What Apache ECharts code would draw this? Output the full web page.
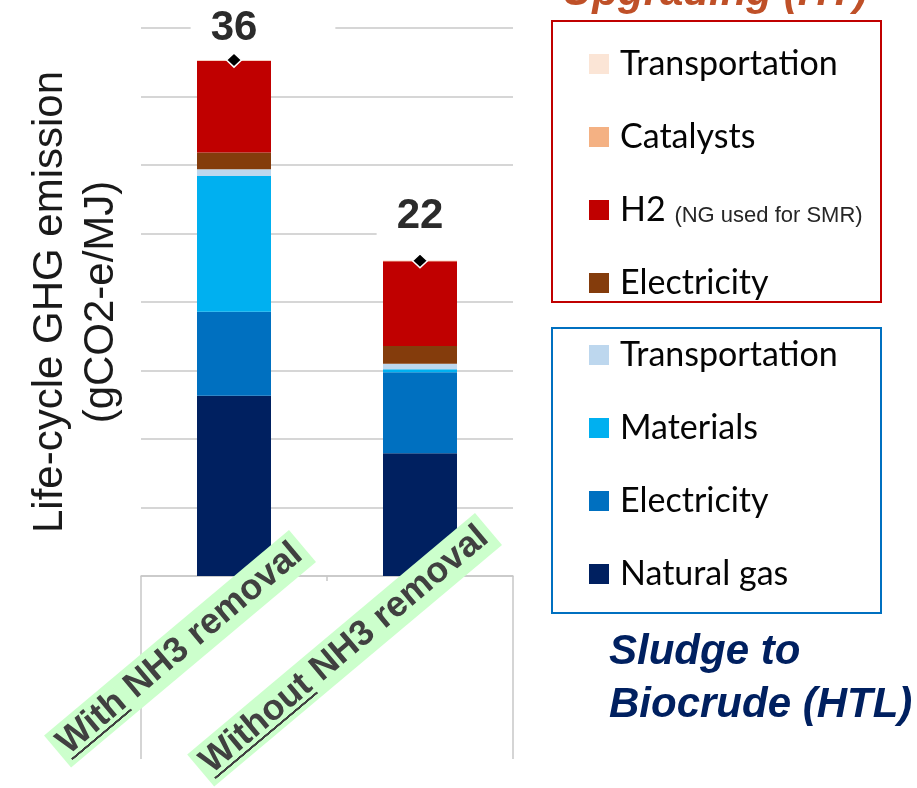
<!DOCTYPE html>
<html>
<head>
<meta charset="utf-8">
<script src="https://cdn.jsdelivr.net/npm/echarts@6/dist/echarts.min.js"></script>
<style>
  html, body { margin: 0; padding: 0; background: #fff; }
  #chart { width: 917px; height: 788px; }
</style>
</head>
<body>
<div id="chart"></div>
<script>
// Scenarios on the category axis
const categories = ['With NH3 removal', 'Without NH3 removal'];

// Sludge to biocrude (HTL) contributions, gCO2-e/MJ
const htlNaturalGas = [12.58, 8.56];
const htlElectricity = [5.86, 5.65];
const htlMaterials = [9.47, 0.21];
const htlTransportation = [0.47, 0.39];

// Biocrude upgrading (HT) contributions, gCO2-e/MJ
const htElectricity = [1.17, 1.24];
const htH2 = [6.40, 5.92];
const htCatalysts = [0.03, 0.02];
const htTransportation = [0.02, 0.01];

// Value axis range and gridline step
const yMax = 38.24;
const yStep = 4.78;

const FONT = "'Liberation Sans', Arial, sans-serif";

// stacking order, bottom to top
const stackSeries = [
  { id: 'htlNG', label: 'Natural gas', data: htlNaturalGas, color: '#002060' },
  { id: 'htlEl', label: 'Electricity', data: htlElectricity, color: '#0070c0' },
  { id: 'htlMat', label: 'Materials', data: htlMaterials, color: '#00b0f0' },
  { id: 'htlTr', label: 'Transportation', data: htlTransportation, color: '#bdd7ee' },
  { id: 'htEl', label: 'Electricity', data: htElectricity, color: '#843c0c' },
  { id: 'htH2', label: 'H2', data: htH2, color: '#c00000' },
  { id: 'htCat', label: 'Catalysts', data: htCatalysts, color: '#f4b183' },
  { id: 'htTr', label: 'Transportation', data: htTransportation, color: '#fbe5d6' }
];

const totals = categories.map((_, i) =>
  Math.round(stackSeries.reduce((s, ser) => s + ser.data[i], 0) * 100) / 100);

const legendText = {};
stackSeries.forEach(s => { legendText[s.id] = s.label; });

// green fill with a dark rule along its lower edge, used to underline a word
function underlineFill() {
  const c = document.createElement('canvas');
  c.width = 4; c.height = 100;
  const g = c.getContext('2d');
  g.fillStyle = '#ccffcc';
  g.fillRect(0, 0, 4, 100);
  g.fillStyle = '#404040';
  g.fillRect(0, 89, 4, 6);
  return c;
}
const ulImg = underlineFill();

function scenarioLabel(v) {
  const words = v.split(' ');
  return '{u|' + words[0] + '}{t| ' + words.slice(1).join(' ') + '}';
}

const scenarioLabelStyle = {
  interval: 0,
  rotate: 40,
  fontFamily: FONT,
  fontSize: 36,
  fontWeight: 'bold',
  color: '#404040',
  lineHeight: 38,
  backgroundColor: '#ccffcc',
  padding: [2, 6, 2, 6],
  rich: {
    u: { backgroundColor: { image: ulImg }, fontFamily: FONT, fontSize: 36, fontWeight: 'bold', color: '#404040', lineHeight: 38 },
    t: { fontFamily: FONT, fontSize: 36, fontWeight: 'bold', color: '#404040', lineHeight: 38 }
  }
};

const gridColor = '#c8c8c8';
const totalLabelDy = [-32, -44];

const legendBase = {
  orient: 'vertical',
  left: 589,
  padding: 0,
  itemWidth: 20,
  itemHeight: 20,
  itemGap: 39,
  icon: 'rect',
  selectedMode: false,
  formatter: name => name === 'htH2' ? '{h|H2} {s|(NG used for SMR)}' : legendText[name],
  textStyle: {
    fontFamily: 'Lato, sans-serif',
    fontSize: 34,
    lineHeight: 34,
    color: '#050505',
    padding: [0, 0, 0, 6],
    rich: {
      h: { fontFamily: 'Lato, sans-serif', fontSize: 34, lineHeight: 34, color: '#050505' },
      s: { fontFamily: FONT, fontSize: 22, lineHeight: 25, color: '#262626', verticalAlign: 'bottom' }
    }
  }
};

const chart = echarts.init(document.getElementById('chart'), null, { renderer: 'canvas' });

chart.setOption({
  animation: false,
  backgroundColor: '#ffffff',
  title: [
    {
      text: 'Upgrading (HT)', left: 562, top: -32, padding: 0,
      textStyle: { fontFamily: FONT, fontSize: 42, fontWeight: 'bold', fontStyle: 'italic', color: '#bf5028', lineHeight: 50 }
    },
    {
      text: 'Sludge to\nBiocrude (HTL)', left: 609, top: 626, padding: 0,
      textStyle: { fontFamily: FONT, fontSize: 42, fontWeight: 'bold', fontStyle: 'italic', color: '#002060', lineHeight: 53 }
    }
  ],
  legend: [
    Object.assign({}, legendBase, { top: 47, data: ['htTr', 'htCat', 'htH2', 'htEl'] }),
    Object.assign({}, legendBase, { top: 338, data: ['htlTr', 'htlMat', 'htlEl', 'htlNG'] })
  ],
  graphic: [
    { type: 'rect', silent: true, shape: { x: 552, y: 21, width: 329, height: 281 },
      style: { fill: 'transparent', stroke: '#c00000', lineWidth: 2 } },
    { type: 'rect', silent: true, shape: { x: 552, y: 328, width: 329, height: 285 },
      style: { fill: 'transparent', stroke: '#0070c0', lineWidth: 2 } }
  ],
  grid: [
    { left: 141, right: 404, top: 28, bottom: 212, outerBoundsMode: 'none' },
    { left: 209.5, right: 335.5, top: 28, bottom: 212, outerBoundsMode: 'none' }
  ],
  xAxis: [
    {
      type: 'category', gridIndex: 0, data: categories, position: 'bottom',
      axisLine: { show: true, lineStyle: { color: gridColor, width: 1.5 } },
      axisTick: { show: true, length: 5, lineStyle: { color: gridColor, width: 1.5 } },
      axisLabel: { show: false },
      splitLine: { show: false }
    },
    {
      type: 'category', gridIndex: 1, data: categories, position: 'bottom', z: 10,
      axisLine: { show: false }, axisTick: { show: false }, splitLine: { show: false },
      axisLabel: Object.assign({}, scenarioLabelStyle, {
        margin: -30,
        formatter: (v, i) => i === 0 ? scenarioLabel(v) : ''
      })
    },
    {
      type: 'category', gridIndex: 1, data: categories, position: 'bottom', z: 10,
      axisLine: { show: false }, axisTick: { show: false }, splitLine: { show: false },
      axisLabel: Object.assign({}, scenarioLabelStyle, {
        margin: -47,
        formatter: (v, i) => i === 1 ? scenarioLabel(v) : ''
      })
    },
    {
      type: 'value', gridIndex: 0, min: 0, max: 1, interval: 1, position: 'bottom',
      axisLine: { show: false },
      axisTick: { show: true, length: 183, lineStyle: { color: gridColor, width: 1.5 } },
      axisLabel: { show: false },
      splitLine: { show: false }
    }
  ],
  yAxis: [
    {
      type: 'value', gridIndex: 0, min: 0, max: yMax, interval: yStep,
      axisLine: { show: false }, axisTick: { show: false }, axisLabel: { show: false },
      splitLine: { show: true, lineStyle: { color: gridColor, width: 1.5 } },
      name: 'Life-cycle GHG emission\n(gCO2-e/MJ)',
      nameLocation: 'middle',
      nameRotate: 90,
      nameGap: 14,
      nameTextStyle: { fontFamily: FONT, fontSize: 42, lineHeight: 51, color: '#1a1a1a' }
    },
    {
      type: 'value', gridIndex: 1, min: 0, max: yMax, show: false
    }
  ],
  series: stackSeries.map(s => ({
    id: s.id,
    name: s.id,
    type: 'bar',
    stack: 'total',
    xAxisIndex: 0,
    yAxisIndex: 0,
    barWidth: 74,
    itemStyle: { color: s.color },
    emphasis: { disabled: true },
    data: s.data
  })).concat([{
    id: 'total',
    name: 'Total',
    type: 'scatter',
    xAxisIndex: 0,
    yAxisIndex: 0,
    z: 5,
    symbol: 'diamond',
    symbolSize: [15, 14],
    itemStyle: { color: '#000000', borderColor: '#ffffff', borderWidth: 1.5, opacity: 1 },
    label: {
      show: true,
      position: 'inside',
      formatter: p => String(Math.round(p.value)),
      fontFamily: FONT,
      fontSize: 42,
      fontWeight: 'bold',
      color: '#2b2b2b',
      lineHeight: 44,
      backgroundColor: '#ffffff',
      padding: [2, 78, 2, 20]
    },
    data: totals.map((v, i) => ({ value: v, label: { offset: [29, totalLabelDy[i]] } }))
  }])
});
</script>
</body>
</html>
